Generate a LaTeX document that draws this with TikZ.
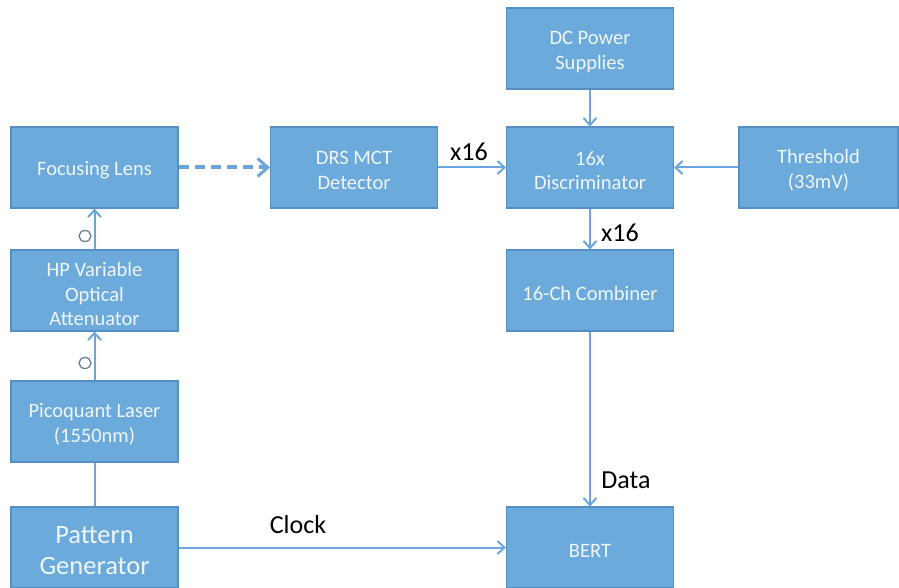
\documentclass[tikz,border=0pt]{standalone}
\usepackage{fontspec}
\setmainfont{Carlito}
\usetikzlibrary{arrows.meta}
\definecolor{boxfill}{RGB}{107,170,218}
\definecolor{boxline}{RGB}{86,143,196}
\definecolor{conn}{RGB}{104,166,220}
\definecolor{boxtext}{RGB}{240,246,251}
\definecolor{circ}{RGB}{110,128,148}
\tikzset{
  blk/.style={draw=boxline, line width=1.2pt, fill=boxfill,
    minimum width=167pt, minimum height=81pt, inner sep=0pt},
  btxt/.style={text=boxtext, align=center, inner sep=0pt,
    font=\fontsize{20.5}{24.5}\selectfont},
  bigtxt/.style={btxt, font=\fontsize{26.5}{31}\selectfont},
  conn/.style={draw=conn, line width=2pt, -{Straight Barb[length=7pt,width=13pt,line width=2pt]}},
  plain/.style={draw=conn, line width=2pt},
  dconn/.style={draw=conn, line width=4pt, dash pattern=on 10pt off 6pt,
    -{Straight Barb[length=10pt,width=18pt,line width=3pt]}},
  lbl/.style={text=black, font=\fontsize{26}{28}\selectfont, inner sep=0pt},
}
\begin{document}
\begin{tikzpicture}[x=1pt,y=-1pt]
\useasboundingbox (0,0) rectangle (899,588);
\node[blk] (lens) at (94.5,167.5) {};
\node[blk] (drs) at (354,167.5) {};
\node[blk] (dc) at (590,48.5) {};
\node[blk] (disc) at (590,167.5) {};
\node[blk, minimum width=159pt] (thr) at (818.5,167.5) {};
\node[blk] (hp) at (94.5,290.5) {};
\node[blk] (comb) at (590,290.5) {};
\node[blk] (laser) at (94.5,421.5) {};
\node[blk] (pg) at (94.5,547.5) {};
\node[blk] (bert) at (590,547.5) {};

\node[btxt] (lens-t) at ([yshift=-3pt]lens.center) {Focusing Lens};
\node[btxt] (drs-t) at ([yshift=-3pt]drs.center) {DRS MCT\\Detector};
\node[btxt] (dc-t) at ([yshift=-3.5pt]dc.center) {DC Power\\Supplies};
\node[btxt] (disc-t) at ([yshift=-3pt]disc.center) {16x\\Discriminator};
\node[btxt] (thr-t) at ([yshift=-3pt]thr.center) {Threshold\\(33mV)};
\node[btxt] (hp-t) at ([yshift=-3.5pt]hp.center) {HP Variable\\Optical\\Attenuator};
\node[btxt] (comb-t) at ([yshift=-3pt]comb.center) {16-Ch Combiner};
\node[btxt] (laser-t) at ([yshift=-3pt]laser.center) {Picoquant Laser\\(1550nm)};
\node[bigtxt] (pg-t) at ([yshift=-3pt]pg.center) {Pattern\\Generator};
\node[btxt] (bert-t) at ([yshift=-3pt]bert.center) {BERT};

\draw[dconn] (lens.east) -- (drs.west);
\draw[conn] (drs.east) -- (disc.west);
\draw[conn] (dc.south) -- (disc.north);
\draw[conn] (thr.west) -- (disc.east);
\draw[conn] (disc.south) -- (comb.north);
\draw[conn] (comb.south) -- (bert.north);
\draw[conn] (pg.east) -- (bert.west);
\draw[conn] (hp.north) -- (lens.south);
\draw[conn] (laser.north) -- (hp.south);
\draw[plain] (pg.north) -- (laser.south);

\draw[circ, line width=1.3pt] (85,236) ellipse [x radius=6pt, y radius=5.5pt];
\draw[circ, line width=1.3pt] (85,363) ellipse [x radius=6pt, y radius=5.5pt];

\node[lbl] (l1) at (469,152) {x16};
\node[lbl] (l2) at (620,233) {x16};
\node[lbl] (l3) at (626,480) {Data};
\node[lbl] (l4) at (298,525) {Clock};
\end{tikzpicture}
\end{document}
